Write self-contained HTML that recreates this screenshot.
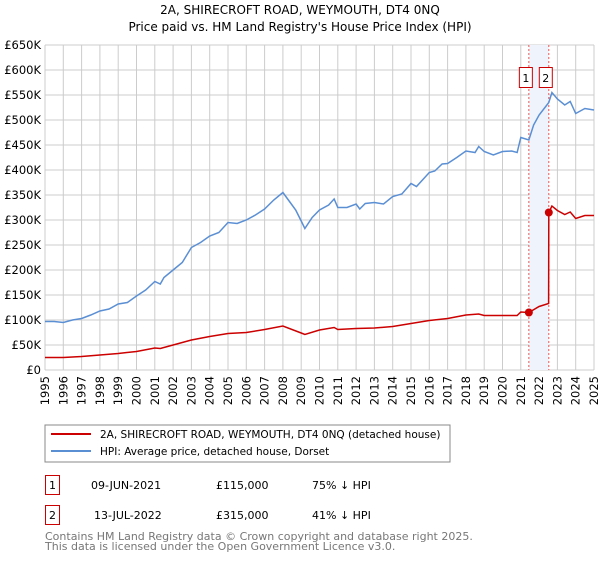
<!DOCTYPE html>
<html><head><meta charset="utf-8"><style>
body{margin:0;background:#fff;font-family:"Liberation Sans","DejaVu Sans",sans-serif}
svg text{font-family:"DejaVu Sans","Liberation Sans",sans-serif}
</style></head><body>
<svg id="c" width="600" height="560" viewBox="0 0 600 560">
<text x="300" y="14" text-anchor="middle" font-size="12">2A, SHIRECROFT ROAD, WEYMOUTH, DT4 0NQ</text>
<text x="300" y="31" text-anchor="middle" font-size="12">Price paid vs. HM Land Registry's House Price Index (HPI)</text>
<g id="grid"></g><g id="marks"></g><g id="series"></g>
<g>
<rect x="45" y="425" width="405" height="37" fill="#fff" stroke="#888"/>
<line x1="51" y1="434" x2="91" y2="434" stroke="#cc0000" stroke-width="2"/>
<text x="100" y="438" font-size="10.5">2A, SHIRECROFT ROAD, WEYMOUTH, DT4 0NQ (detached house)</text>
<line x1="51" y1="451" x2="91" y2="451" stroke="#5b8fd4" stroke-width="2"/>
<text x="100" y="455" font-size="10.5">HPI: Average price, detached house, Dorset</text>
</g>
<g font-size="11">
<rect x="45.5" y="475.5" width="14" height="19" fill="none" stroke="#cc0000"/><text x="52.5" y="489" text-anchor="middle">1</text>
<text x="91" y="489">09-JUN-2021</text><text x="216" y="489">£115,000</text><text x="312" y="489">75% ↓ HPI</text>
<rect x="45.5" y="505.5" width="14" height="19" fill="none" stroke="#cc0000"/><text x="52.5" y="519" text-anchor="middle">2</text>
<text x="94" y="519">13-JUL-2022</text><text x="216" y="519">£315,000</text><text x="312" y="519">41% ↓ HPI</text>
</g>
<text x="45" y="540" font-size="11" fill="#777">Contains HM Land Registry data © Crown copyright and database right 2025.</text>
<text x="45" y="550" font-size="11" fill="#777">This data is licensed under the Open Government Licence v3.0.</text>
</svg>
<script>
const hpiYears=[1995,1995.5,1996,1996.5,1997,1997.5,1998,1998.5,1999,1999.5,2000,2000.5,2001,2001.3,2001.5,2002,2002.5,2003,2003.5,2004,2004.5,2005,2005.5,2006,2006.5,2007,2007.5,2008,2008.3,2008.7,2009,2009.2,2009.6,2010,2010.5,2010.8,2011,2011.5,2012,2012.2,2012.5,2013,2013.5,2014,2014.5,2015,2015.3,2016,2016.3,2016.7,2017,2017.5,2018,2018.5,2018.7,2019,2019.5,2020,2020.5,2020.8,2021,2021.44,2021.7,2022,2022.53,2022.7,2023,2023.4,2023.7,2024,2024.5,2025];
const hpiValues=[97,97,95,100,103,110,118,122,132,135,148,160,177,172,185,200,215,245,255,268,275,295,293,300,310,322,340,355,340,320,298,283,305,320,330,342,325,325,332,322,333,335,332,347,352,373,367,395,398,412,413,425,438,435,447,437,430,437,438,435,465,460,490,510,535,555,542,530,537,513,523,520];
const priceYears=[1995,1996,1997,1998,1999,2000,2001,2001.3,2002,2003,2004,2005,2006,2007,2008,2009,2009.2,2010,2010.8,2011,2012,2013,2014,2015,2016,2017,2018,2018.7,2019,2020,2020.8,2021,2021.44,2022,2022.52,2022.53,2022.7,2023,2023.4,2023.7,2024,2024.5,2025];
const priceValues=[25,25,27,30,33,37,44,43,50,60,67,73,75,81,88,74,71,80,85,81,83,84,87,93,99,103,110,112,109,109,109,116,115,127,133,315,328,319,311,316,303,309,309];
const saleYears=[2021.44,2022.53];
const saleValues=[115,315];
const saleLabels=["1","2"];
const yTicks=[0,50,100,150,200,250,300,350,400,450,500,550,600,650];
const xTicks=[1995,1996,1997,1998,1999,2000,2001,2002,2003,2004,2005,2006,2007,2008,2009,2010,2011,2012,2013,2014,2015,2016,2017,2018,2019,2020,2021,2022,2023,2024,2025];
const L=45,R=594,T=45,B=370,NS="http://www.w3.org/2000/svg";
const X=v=>L+(v-1995)/30*(R-L), Y=v=>B-v/650*(B-T);
function mk(tag,attrs,parent){const e=document.createElementNS(NS,tag);for(const k in attrs)e.setAttribute(k,attrs[k]);document.getElementById(parent).appendChild(e);return e;}
yTicks.forEach(v=>{
 const l=mk('line',{x1:L,x2:R,y1:Y(v),y2:Y(v),stroke:'#ccc'},'grid');
 
 
 const t=mk('text',{x:L-4,y:Y(v)+4,'text-anchor':'end','font-size':'11.5'},'grid');
 t.textContent=v===0?'£0':'£'+v+'K';
 
 
});
xTicks.forEach(v=>{
 const l=mk('line',{x1:X(v),x2:X(v),y1:T,y2:B,stroke:'#ccc'},'grid');
 
 
 const t=mk('text',{x:0,y:0,'text-anchor':'end','font-size':'11.5',transform:`translate(${X(v)+4},${B+6}) rotate(-90)`},'grid');
 t.textContent=v;
 
 
});
const sh=mk('rect',{x:X(saleYears[0]),y:T,width:X(saleYears[1])-X(saleYears[0]),height:B-T,fill:'#eef3fc'},'marks');


saleYears.forEach((y,i)=>{
 const l=mk('line',{x1:X(y),x2:X(y),y1:T,y2:B,stroke:'#ee5555','stroke-dasharray':'2,2'},'marks');
 
 
 const r=mk('rect',{x:X(y)-9.5,y:67.5,width:13,height:20,fill:'#fff',stroke:'#cc0000'},'marks');
 
 
 const t=mk('text',{x:X(y)-3,y:82,'text-anchor':'middle','font-size':'11'},'marks');
 t.textContent=saleLabels[i];
 
 
});
const hp=mk('polyline',{points:hpiYears.map((y,i)=>X(y)+','+Y(hpiValues[i])).join(' '),fill:'none',stroke:'#5b8fd4','stroke-width':1.5},'series');


const pp=mk('polyline',{points:priceYears.map((y,i)=>X(y)+','+Y(priceValues[i])).join(' '),fill:'none',stroke:'#cc0000','stroke-width':1.5},'series');


saleYears.forEach((y,i)=>{
 const c=mk('circle',{cx:X(y),cy:Y(saleValues[i]),r:4,fill:'#cc0000'},'series');
 
 
});
</script>
</body></html>
